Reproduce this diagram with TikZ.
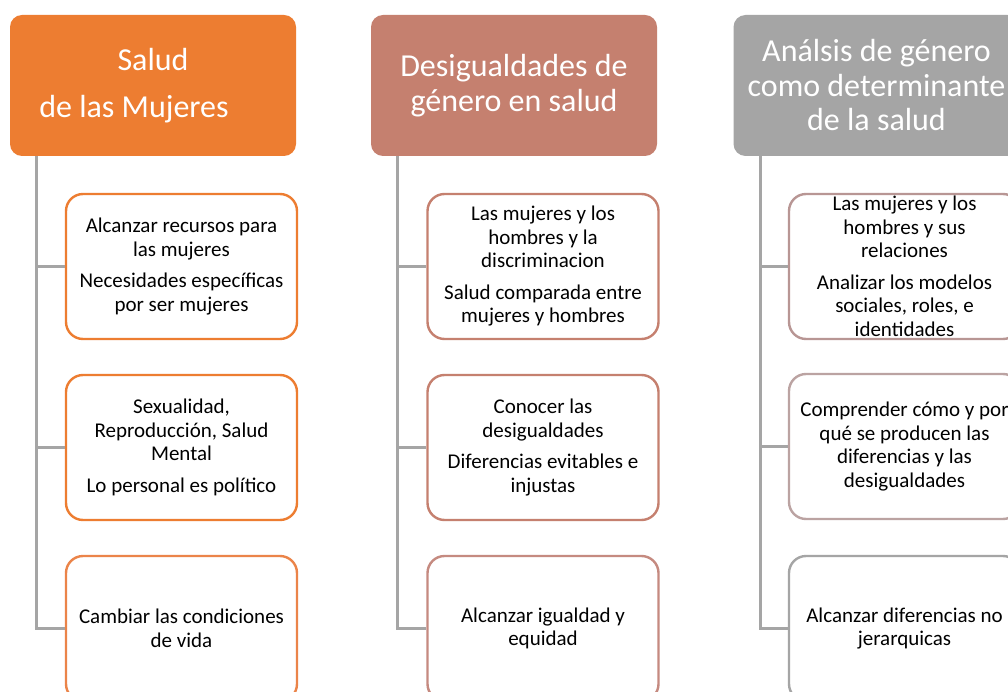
\documentclass[tikz,border=0pt]{standalone}
\usepackage{fontspec}
\setmainfont{Carlito}
\definecolor{orangeA}{HTML}{ED7D31}
\definecolor{orangeB}{HTML}{EB8449}
\definecolor{roseA}{HTML}{C5806F}
\definecolor{roseB}{HTML}{C58A80}
\definecolor{greyA}{HTML}{A5A5A5}
\definecolor{mauveA}{HTML}{B89694}
\definecolor{mauveB}{HTML}{BBA3A2}
\definecolor{lineg}{HTML}{A5A5A5}
\tikzset{
  header/.style={rounded corners=12pt, minimum width=286pt, minimum height=141pt,
    inner sep=0pt, text=white, align=center, font=\fontsize{32}{34.5}\selectfont},
  child/.style={draw, line width=2.4pt, rounded corners=17pt, fill=white,
    minimum width=231pt, minimum height=145pt, inner sep=0pt, text=black,
    align=center, font=\fontsize{21}{23.5}\selectfont},
  conn/.style={draw=lineg, line width=3pt}
}
\begin{document}
\begin{tikzpicture}[x=1pt,y=-1pt]
\useasboundingbox (0,0) rectangle (1008,692);
\clip (0,0) rectangle (1008,692);
\fill[white] (0,0) rectangle (1008,692);
% headers
\node[header, fill=orangeA] (h1) at (153,85.5) {Salud\\[13pt]de las Mujeres\hspace*{38pt}};
\node[header, fill=roseA] (h2) at (514,85.5) {Desigualdades de\\género en salud};
\node[header, fill=greyA] (h3) at (876.5,85.5) {Análsis de género\\como determinante\\de la salud};
% column 1
\node[child, draw=orangeA] (c11) at (181.5,266.5) {Alcanzar recursos para\\las mujeres\\[8pt]Necesidades específicas\\por ser mujeres};
\node[child, draw=orangeA] (c12) at (181.5,447.5) {Sexualidad,\\Reproducción, Salud\\Mental\\[8pt]Lo personal es político};
\node[child, draw=orangeB] (c13) at (181.5,628.5) {Cambiar las condiciones\\de vida};
% column 2
\node[child, draw=roseA] (c21) at (543,266.5) {Las mujeres y los\\hombres y la\\discriminacion\\[8pt]Salud comparada entre\\mujeres y hombres};
\node[child, draw=roseA] (c22) at (543,447.5) {Conocer las\\desigualdades\\[8pt]Diferencias evitables e\\injustas};
\node[child, draw=roseB] (c23) at (543,628.5) {Alcanzar igualdad y\\equidad};
% column 3
\node[child, draw=mauveA] (c31) at (904.5,266.5) {Las mujeres y los\\hombres y sus\\relaciones\\[8pt]Analizar los modelos\\sociales, roles, e\\identidades};
\node[child, draw=mauveB] (c32) at (904.5,446.5) {Comprender cómo y por\\qué se producen las\\diferencias y las\\desigualdades};
\node[child, draw=greyA] (c33) at (904.5,628.5) {Alcanzar diferencias no\\jerarquicas};
% connectors
\foreach \h/\a/\b/\c in {h1/c11/c12/c13, h2/c21/c22/c23, h3/c31/c32/c33}{
  \draw[conn] ([xshift=27pt]\h.south west) |- (\c.west);
  \draw[conn] ([xshift=27pt]\h.south west) |- (\a.west);
  \draw[conn] ([xshift=27pt]\h.south west) |- (\b.west);
}
\end{tikzpicture}
\end{document}
